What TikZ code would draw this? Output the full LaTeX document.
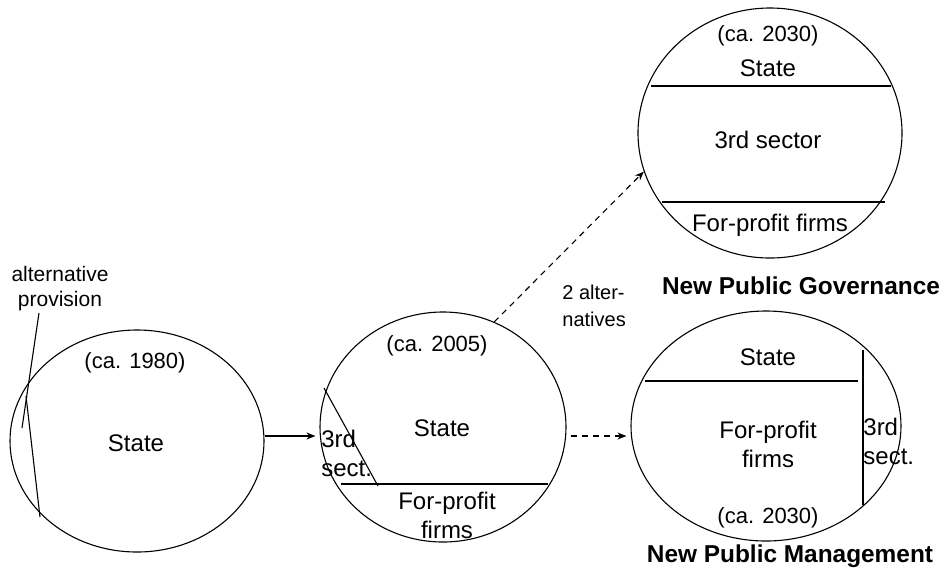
\documentclass[tikz,border=0pt]{standalone}
\usepackage{fontspec}
\setmainfont{Liberation Sans}
\usetikzlibrary{shapes.geometric,arrows.meta}
\begin{document}
\begin{tikzpicture}[x=0.5pt,y=-0.5pt,
  ln/.style={line width=0.55pt},
  sector/.style={draw,ellipse,inner sep=0pt,line width=0.55pt},
  lbl/.style={inner sep=0pt,align=center,font=\fontsize{12}{14.5}\selectfont},
  yr/.style={inner sep=0pt,font=\fontsize{11}{13}\selectfont},
  small/.style={inner sep=0pt,align=center,font=\fontsize{10.5}{12.5}\selectfont},
  ttl/.style={inner sep=0pt,font=\fontsize{12.2}{14}\selectfont\bfseries},
  arr/.style={line width=0.55pt,-{Stealth[length=4.5pt,width=3.5pt]}},
  darr/.style={arr,dash pattern=on 3pt off 2.5pt}]
\useasboundingbox (0,0) rectangle (942,570);
% ellipses
\node[sector,minimum width=127pt,minimum height=111pt] (e1) at (137,441) {};
\node[sector,minimum width=123pt,minimum height=115pt] (e2) at (443,427) {};
\node[sector,minimum width=132pt,minimum height=125pt] (e3) at (770,133) {};
\node[sector,minimum width=135pt,minimum height=115pt] (e4) at (766,426) {};
% left circle
\node[yr] (y1) at (135,363) {(ca. 1980)};
\node[lbl] (s1) at (136,443) {State};
\node[small] (alt) at (60,289) {alternative\\provision};
\coordinate (c1a) at (39,313);
\coordinate (c1b) at (22,428);
\draw[ln] (c1a) -- (c1b);
\coordinate (ch1a) at (26,396);
\coordinate (ch1b) at (40,517);
\draw[ln] (ch1a) -- (ch1b);
% middle circle
\node[yr] (y2) at (437,346) {(ca. 2005)};
\node[lbl] (s2) at (442,428) {State};
\node[lbl,anchor=west,align=left] (t2) at (321,453) {3rd\\sect.};
\node[lbl] (f2) at (447,515) {For-profit\\firms};
\coordinate (h2a) at (341,484);
\coordinate (h2b) at (548,484);
\draw[ln] (h2a) -- (h2b);
\coordinate (d2a) at (324,388);
\coordinate (d2b) at (378,486);
\draw[ln] (d2a) -- (d2b);
% NPG circle
\node[yr] (y3) at (768,36) {(ca. 2030)};
\node[lbl] (s3) at (768,68) {State};
\node[lbl] (t3) at (768,140) {3rd sector};
\node[lbl] (f3) at (770,225) {For-profit firms};
\coordinate (h3a) at (651,86);
\coordinate (h3b) at (891,86);
\draw[ln] (h3a) -- (h3b);
\coordinate (h3c) at (662,202);
\coordinate (h3d) at (885,202);
\draw[ln] (h3c) -- (h3d);
\node[ttl] (npg) at (801,286) {New Public Governance};
% NPM circle
\node[lbl] (s4) at (768,357) {State};
\node[lbl] (f4) at (768,444) {For-profit\\firms};
\node[lbl,anchor=west,align=left] (t4) at (863,441) {3rd\\sect.};
\node[yr] (y4) at (768,518) {(ca. 2030)};
\coordinate (h4a) at (645,381);
\coordinate (h4b) at (858,381);
\draw[ln] (h4a) -- (h4b);
\coordinate (v4a) at (863,350);
\coordinate (v4b) at (863,505);
\draw[ln] (v4a) -- (v4b);
\node[ttl] (npm) at (790,556) {New Public Management};
% middle label
\node[inner sep=0pt,align=left,anchor=west,font=\fontsize{10}{13.5}\selectfont] (two) at (562,306) {2 alter-\\natives};
% connectors
\draw[arr,shorten >=2pt] (e1.east |- 0,436) -- (e2.west |- 0,436);
\draw[darr,shorten <=2pt,shorten >=2pt] (e2.east |- 0,436) -- (e4.west |- 0,436);
\draw[darr] (e2.64) -- (e3.197);
\end{tikzpicture}
\end{document}
